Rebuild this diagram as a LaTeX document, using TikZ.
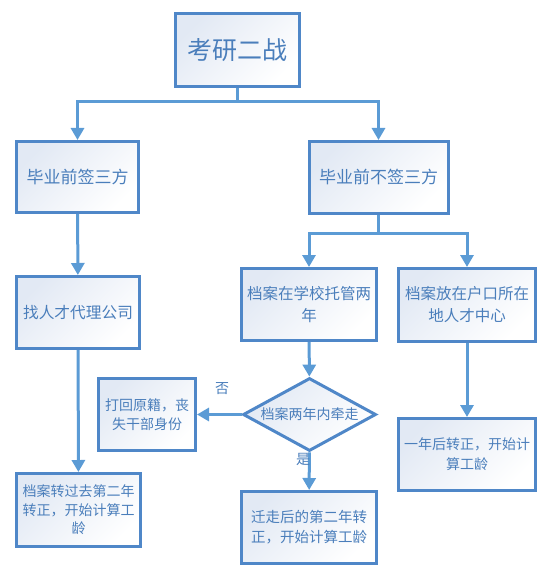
\documentclass[tikz,border=0pt]{standalone}
\usepackage{fontspec}
\newfontfamily\cjk{Noto Sans CJK SC}
\usetikzlibrary{shapes.geometric,arrows.meta}
\definecolor{bordercol}{HTML}{4F87C8}
\definecolor{linecol}{HTML}{5B9BD5}
\definecolor{txtcol}{HTML}{4A7EBB}
\definecolor{fillcol}{HTML}{E2E9F4}
\tikzset{
  box/.style={draw=bordercol, line width=3pt, top color=fillcol, bottom color=white,
    shading angle=45, text=txtcol, align=center, inner sep=0pt, font=\cjk},
  conn/.style={draw=linecol, line width=3pt},
  arr/.style={conn, -{Triangle[width=13pt,length=12pt]}},
  lbl/.style={text=txtcol, font=\cjk\fontsize{14}{16}\selectfont, inner sep=0pt},
}
\begin{document}
\begin{tikzpicture}[x=1pt,y=-1pt]
\useasboundingbox (0,0) rectangle (553,577);
\node[box, minimum width=124pt, minimum height=73pt, font=\cjk\fontsize{25}{28}\selectfont] (top) at (237.5,50) {考研二战};
\node[box, minimum width=122pt, minimum height=71pt, font=\cjk\fontsize{17}{20}\selectfont] (sign) at (77.5,177) {毕业前签三方};
\node[box, minimum width=139pt, minimum height=72pt, font=\cjk\fontsize{17}{20}\selectfont] (nosign) at (378.5,177.5) {毕业前不签三方};
\node[box, minimum width=123pt, minimum height=72pt, font=\cjk\fontsize{15.7}{20}\selectfont] (agent) at (78,312.5) {找人才代理公司};
\node[box, minimum width=135pt, minimum height=72pt, font=\cjk\fontsize{15.5}{22}\selectfont] (school) at (309,304.5) {档案在学校托管两\\年};
\node[box, minimum width=137pt, minimum height=73pt, font=\cjk\fontsize{15.5}{22}\selectfont] (hukou) at (467,305) {档案放在户口所在\\地人才中心};
\node[box, shape=diamond, aspect=1.8, minimum width=133pt, minimum height=73pt, font=\cjk\fontsize{14}{16}\selectfont] (dia) at (309.5,414.5) {档案两年内牵走};
\node[box, minimum width=97pt, minimum height=72pt, font=\cjk\fontsize{14}{19}\selectfont] (back) at (147,414.5) {打回原籍，丧\\失干部身份};
\node[box, minimum width=124pt, minimum height=73pt, font=\cjk\fontsize{14}{18.5}\selectfont] (transfer) at (78.5,510) {档案转过去第二年\\转正，开始计算工\\龄};
\node[box, minimum width=135pt, minimum height=72pt, font=\cjk\fontsize{14.5}{20}\selectfont] (moved) at (309,527.5) {迁走后的第二年转\\正，开始计算工龄};
\node[box, minimum width=137pt, minimum height=72pt, font=\cjk\fontsize{14}{20}\selectfont] (year) at (467,454.5) {一年后转正，开始计\\算工龄};
\coordinate (j1) at (237.5,102);
\coordinate (j2) at (378.5,233);
\draw[conn] (top) -- (j1);
\draw[arr] (j1) -| (sign);
\draw[arr] (j1) -| (nosign);
\draw[conn] (nosign) -- (j2);
\draw[arr] (j2) -| (school);
\draw[arr] (j2) -| (hukou);
\draw[arr] (sign) -- (agent);
\draw[arr] (agent) -- (transfer);
\draw[arr] (school) -- (dia);
\draw[arr] (dia) -- (back);
\draw[arr] (dia) -- (moved);
\draw[arr] (hukou) -- (year);
\node[lbl] (no) at (222,389) {否};
\node[lbl] (yes) at (303,459) {是};
\end{tikzpicture}
\end{document}
